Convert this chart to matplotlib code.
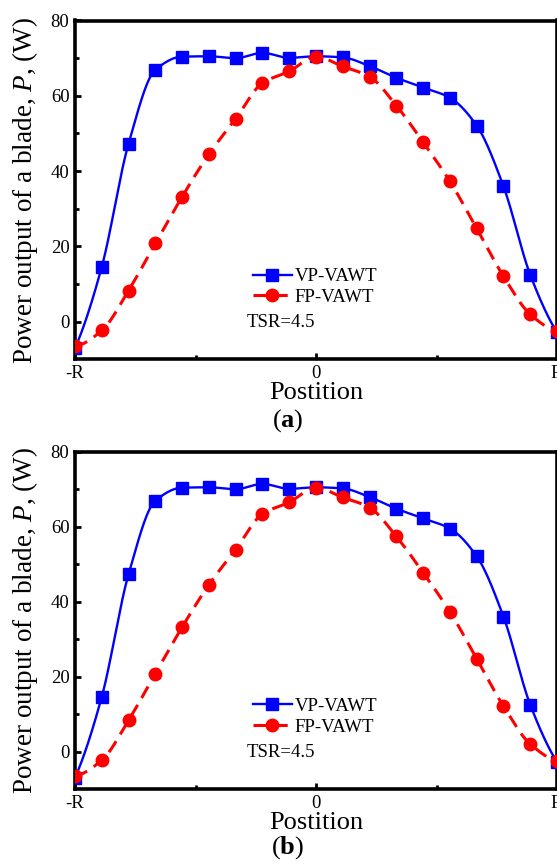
import numpy as np
import matplotlib
matplotlib.use("Agg")
import matplotlib.pyplot as plt
from matplotlib.lines import Line2D

# ---- data ----
positions = list(range(-9, 10))            # blade position in units of R/9
xtick_values = [-9, 0, 9]
xtick_labels = ["-R", "0", "R"]
ytick_values = [0, 20, 40, 60, 80]
vp_power = [-7.0, 14.6, 47.3, 66.9, 70.4, 70.5, 70.0, 71.4, 70.1, 70.5,
            70.2, 67.9, 64.8, 62.2, 59.5, 52.1, 36.0, 12.5, -2.8]
fp_power = [-6.5, -2.3, 8.3, 20.8, 33.2, 44.5, 53.9, 63.4, 66.5, 70.4,
            67.8, 65.1, 57.4, 47.7, 37.3, 24.8, 12.1, 2.0, -2.5]
series_labels = ["VP-VAWT", "FP-VAWT"]
annotation = "TSR=4.5"
panel_labels = ["a", "b"]

plt.rcParams["font.family"] = ["Liberation Serif", "DejaVu Serif"]
plt.rcParams["mathtext.fontset"] = "custom"
plt.rcParams["mathtext.rm"] = "Liberation Serif"
plt.rcParams["mathtext.it"] = "Liberation Serif:italic"
plt.rcParams["mathtext.bf"] = "Liberation Serif:bold"

BLUE = "#0000FF"
RED = "#FF0000"


def smooth_path(x, y, n=600):
    """Shape-preserving (PCHIP) curve through the data points, for the line only."""
    x = np.asarray(x, float)
    y = np.asarray(y, float)
    h = np.diff(x)
    delta = np.diff(y) / h
    m = len(x)
    d = np.zeros(m)
    for k in range(1, m - 1):
        if delta[k - 1] * delta[k] > 0:
            w1 = 2 * h[k] + h[k - 1]
            w2 = h[k] + 2 * h[k - 1]
            d[k] = (w1 + w2) / (w1 / delta[k - 1] + w2 / delta[k])

    def end_slope(h0, h1, d0, d1):
        s = ((2 * h0 + h1) * d0 - h0 * d1) / (h0 + h1)
        if np.sign(s) != np.sign(d0):
            s = 0.0
        elif np.sign(d0) != np.sign(d1) and abs(s) > abs(3 * d0):
            s = 3 * d0
        return s

    d[0] = end_slope(h[0], h[1], delta[0], delta[1])
    d[-1] = end_slope(h[-1], h[-2], delta[-1], delta[-2])
    xs = np.linspace(x[0], x[-1], n)
    idx = np.clip(np.searchsorted(x, xs) - 1, 0, m - 2)
    t = (xs - x[idx]) / h[idx]
    h00 = 2 * t ** 3 - 3 * t ** 2 + 1
    h10 = t ** 3 - 2 * t ** 2 + t
    h01 = -2 * t ** 3 + 3 * t ** 2
    h11 = t ** 3 - t ** 2
    ys = h00 * y[idx] + h10 * h[idx] * d[idx] + h01 * y[idx + 1] + h11 * h[idx] * d[idx + 1]
    return xs, ys


fig = plt.figure(figsize=(5.57, 8.67), dpi=100)

W, H = 557.0, 867.0
panels = [(20.5, 359.5), (451.7, 789.0)]   # top / bottom spine pixel rows
caption_y = [421.0, 848.0]
xlabel_y = [-0.066, -0.069]
left_px, right_px = 75.0, 557.0

for k, (top, bot) in enumerate(panels):
    ax = fig.add_axes([left_px / W, 1 - bot / H, (right_px - left_px) / W, (bot - top) / H])

    xs, ys = smooth_path(positions, vp_power)
    ax.plot(xs, ys, color=BLUE, lw=1.7, zorder=2)
    ax.plot(positions, vp_power, ls="none", marker="s", ms=8, color=BLUE, zorder=3)

    xs, ys = smooth_path(positions, fp_power)
    ax.plot(xs, ys, color=RED, lw=2.2, dashes=(4.3, 2.6), zorder=4)
    ax.plot(positions, fp_power, ls="none", marker="o", ms=9, color=RED, zorder=5)

    ax.set_xlim(-9, 9)
    ax.set_ylim(-10, 80)
    ax.set_xticks(xtick_values)
    ax.set_xticklabels(xtick_labels)
    ax.set_xticks([-4.5, 4.5], minor=True)
    ax.set_yticks(ytick_values)
    ax.set_yticks([10, 30, 50, 70], minor=True)
    ax.tick_params(which="both", direction="in", width=2.0, labelsize=13.5,
                   top=False, right=False)
    ax.tick_params(which="major", length=4.5)
    ax.tick_params(which="minor", length=3.0)
    ax.tick_params(axis="x", pad=4)
    ax.tick_params(axis="y", pad=4)
    for sp in ax.spines.values():
        sp.set_linewidth(2.6)

    ax.set_ylabel(r"Power output of a blade, $P$, (W)", fontsize=19.5)
    ax.yaxis.set_label_coords(-0.0726, 0.5)
    ax.set_xlabel("Postition", fontsize=19)
    ax.xaxis.set_label_coords(0.5, xlabel_y[k])

    handles = [
        Line2D([], [], color=BLUE, lw=1.7, marker="s", ms=8),
        Line2D([], [], color=RED, lw=2.2, dashes=(4.3, 2.6), marker="o", ms=9),
    ]
    ax.legend(handles, series_labels, loc="upper left", bbox_to_anchor=(0.369, 0.270),
              frameon=False, borderpad=0, borderaxespad=0, handlelength=2.08,
              handletextpad=0.16, labelspacing=0.2, fontsize=13.5)
    ax.text(0.357, 0.108, annotation, transform=ax.transAxes, ha="left",
            va="center", fontsize=13.5)

    fig.text(288.0 / W, 1 - caption_y[k] / H, r"($\mathbf{%s}$)" % panel_labels[k],
             ha="center", va="center", fontsize=19)

fig.savefig("out.png", dpi=100)
